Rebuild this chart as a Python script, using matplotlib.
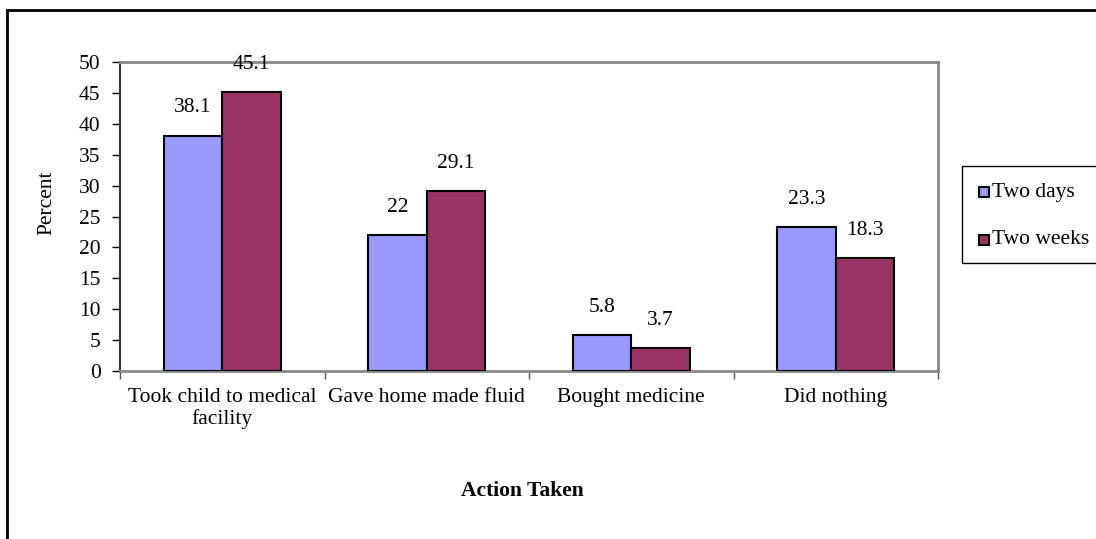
import matplotlib.pyplot as plt
import numpy as np
from matplotlib.lines import Line2D
from matplotlib.patches import Rectangle

categories = ['Took child to medical\nfacility', 'Gave home made fluid', 'Bought medicine', 'Did nothing']
two_days = [38.1, 22, 5.8, 23.3]
two_weeks = [45.1, 29.1, 3.7, 18.3]
series_names = ['Two days', 'Two weeks']
colors = ['#9999FF', '#993366']

plt.rcParams['font.family'] = ['Liberation Serif', 'DejaVu Serif']
fs = 15.5

W, H = 1096, 539
fig = plt.figure(figsize=(W / 100, H / 100), dpi=100)
ax = fig.add_axes([120 / W, 1 - 371 / H, (938 - 120) / W, (371 - 62) / H])

x = np.arange(len(categories))
bw = 0.285
b1 = ax.bar(x - bw / 2, two_days, bw, color=colors[0], edgecolor='black', linewidth=1.5, zorder=3)
b2 = ax.bar(x + bw / 2, two_weeks, bw, color=colors[1], edgecolor='black', linewidth=1.5, zorder=3)

for bars, vals in ((b1, two_days), (b2, two_weeks)):
    for r, v in zip(bars, vals):
        ax.annotate(f'{v:g}', (r.get_x() + r.get_width() / 2, v), xytext=(0, 13),
                    textcoords='offset points', ha='center', va='bottom', fontsize=fs, zorder=5)

ax.set_xlim(-0.5, len(categories) - 0.5)
ax.set_ylim(0, 50)
ax.set_yticks(range(0, 51, 5))
ax.set_xticks(x)
ax.set_xticklabels(categories, fontsize=fs, linespacing=1.15)
ax.tick_params(axis='x', length=0, pad=12)
ax.set_xticks(np.arange(-0.5, len(categories), 1), minor=True)
ax.tick_params(axis='x', which='minor', length=6, direction='out', width=1, color='#555555')
ax.tick_params(axis='y', length=6, direction='out', width=1, labelsize=fs, pad=8)

for side in ['top', 'right', 'bottom']:
    ax.spines[side].set_color('#888888')
    ax.spines[side].set_linewidth(2)
ax.spines['left'].set_color('#333333')
ax.spines['left'].set_linewidth(1.5)

fig.text(47 / W, 1 - 203 / H, 'Percent', rotation=90, ha='center', va='center', fontsize=fs)
fig.text(522 / W, 1 - 491 / H, 'Action Taken', ha='center', va='center', fontsize=fs, fontweight='bold')

# legend box (runs off the right edge, as in the original)
fig.add_artist(Rectangle((962 / W, 1 - 263 / H), 200 / W, 97 / H, transform=fig.transFigure,
                         facecolor='white', edgecolor='black', linewidth=1))
for name, c, yc in zip(series_names, colors, (192, 240)):
    fig.add_artist(Rectangle((979 / W, 1 - (yc + 5) / H), 10 / W, 10 / H, transform=fig.transFigure,
                             facecolor=c, edgecolor='black', linewidth=1.5))
    fig.text(992 / W, 1 - yc / H, name, ha='left', va='center', fontsize=fs)

# outer chart border
fig.add_artist(Line2D([7 / W, 7 / W], [0, 1 - 10 / H], color='black', linewidth=2, transform=fig.transFigure))
fig.add_artist(Line2D([7 / W, 1], [1 - 10 / H, 1 - 10 / H], color='black', linewidth=2, transform=fig.transFigure))

fig.savefig('out.png', dpi=100)
